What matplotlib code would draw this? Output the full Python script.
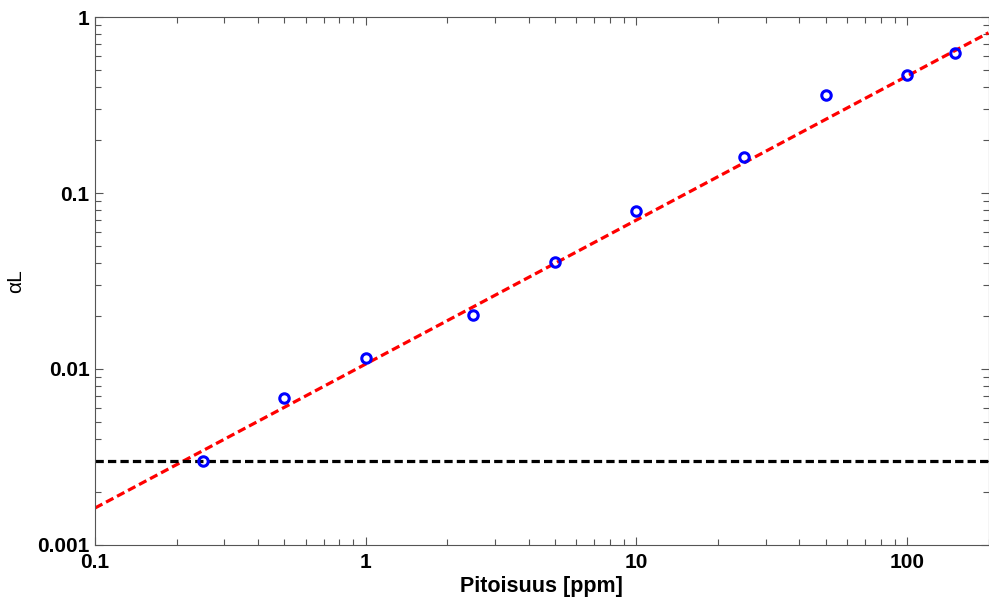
import numpy as np
import matplotlib
matplotlib.use('Agg')
import matplotlib.pyplot as plt
from matplotlib.ticker import FixedLocator, FixedFormatter, LogLocator, NullFormatter

plt.rcParams['font.family'] = ['Liberation Sans', 'DejaVu Sans']

# measured absorbance vs concentration
conc = [0.25, 0.5, 1, 2.5, 5, 10, 25, 50, 100, 150]
alpha_L = [0.0030, 0.0068, 0.0115, 0.0203, 0.0406, 0.079, 0.160, 0.361, 0.468, 0.624]

# power-law fit  aL = k * c^n
fit_k = 0.01067
fit_n = 0.818

# detection limit level
noise_level = 0.003

xlim = (0.1, 200)
ylim = (0.001, 1)
xticks = [0.1, 1, 10, 100]
xticklabels = ['0.1', '1', '10', '100']
yticks = [0.001, 0.01, 0.1, 1]
yticklabels = ['0.001', '0.01', '0.1', '1']

fig = plt.figure(figsize=(9.89, 6.01), dpi=100)
ax = fig.add_axes([0.0961, 0.0932, 0.9034, 0.8785])

xs = np.logspace(np.log10(xlim[0]), np.log10(xlim[1]), 200)
ax.plot(xs, fit_k * xs ** fit_n, 'r--', lw=2.3, dashes=(2.6, 1.3))
ax.plot(xlim, [noise_level, noise_level], 'k--', lw=2.3, dashes=(2.6, 1.3))
ax.plot(conc, alpha_L, 'o', ms=6.8, mfc='none', mec='#0000ff', mew=2.2)

ax.set_xscale('log')
ax.set_yscale('log')
ax.set_xlim(xlim)
ax.set_ylim(ylim)

ax.xaxis.set_major_locator(FixedLocator(xticks))
ax.xaxis.set_major_formatter(FixedFormatter(xticklabels))
ax.yaxis.set_major_locator(FixedLocator(yticks))
ax.yaxis.set_major_formatter(FixedFormatter(yticklabels))
ax.xaxis.set_minor_locator(LogLocator(base=10, subs=np.arange(2, 10)))
ax.yaxis.set_minor_locator(LogLocator(base=10, subs=np.arange(2, 10)))
ax.xaxis.set_minor_formatter(NullFormatter())
ax.yaxis.set_minor_formatter(NullFormatter())

ax.tick_params(which='both', direction='in', top=True, right=True, color='#555555')
ax.tick_params(which='major', length=6, width=0.8, labelsize=15)
ax.tick_params(axis='x', which='major', pad=6)
ax.tick_params(axis='y', which='major', pad=4)
ax.tick_params(which='minor', length=4, width=0.8)
for lab in ax.get_xticklabels() + ax.get_yticklabels():
    lab.set_fontweight('bold')
for sp in ax.spines.values():
    sp.set_color('#555555')
    sp.set_linewidth(0.8)

ax.set_xlabel('Pitoisuus [ppm]', fontsize=15.5, fontweight='bold', labelpad=3)
ax.set_ylabel('αL', fontsize=15)
ax.yaxis.set_label_coords(-0.078, 0.5)

fig.savefig('out.png', dpi=100)
